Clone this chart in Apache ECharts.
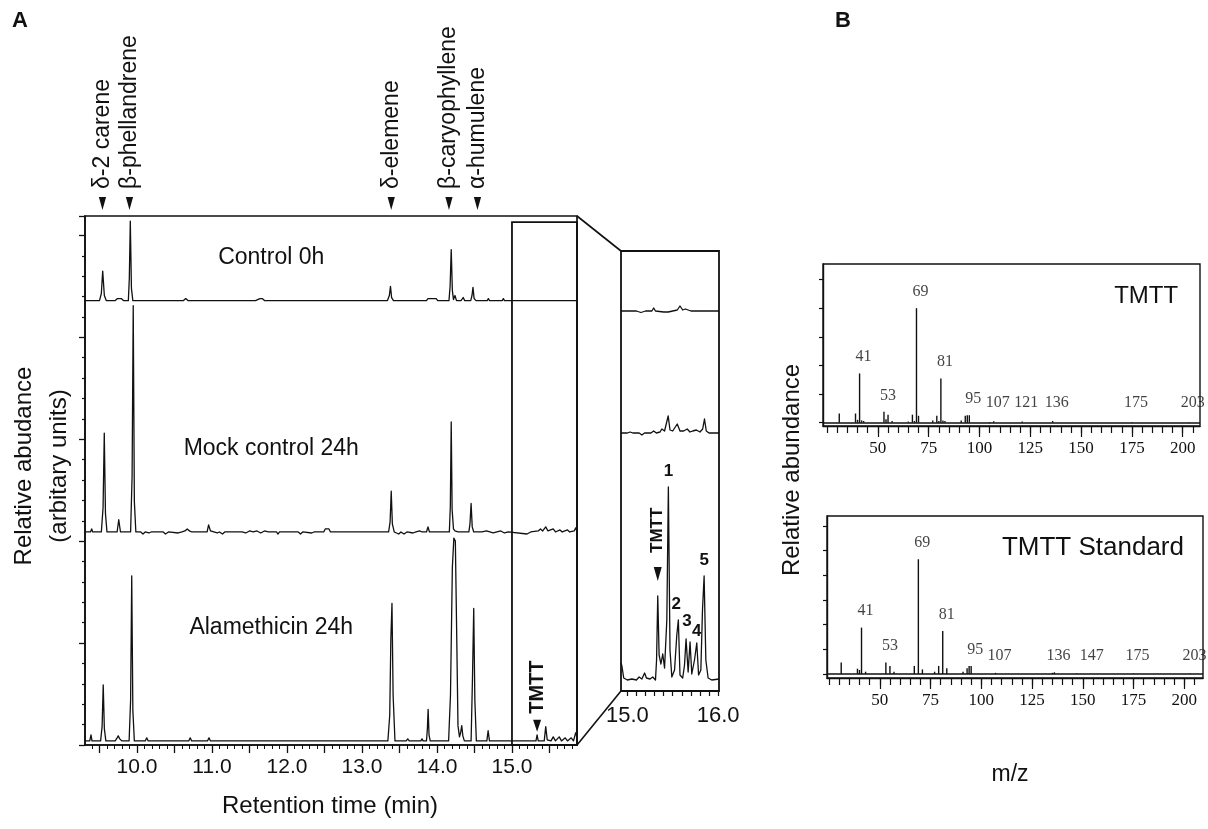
<!DOCTYPE html>
<html>
<head>
<meta charset="utf-8">
<script src="https://cdn.jsdelivr.net/npm/echarts@6/dist/echarts.min.js"></script>
<style>
html, body { margin: 0; padding: 0; background: #fff; }
#chart { width: 1208px; height: 829px; }
</style>
</head>
<body>
<div id="chart"></div>
<script>
// ---- A: chromatograms, [retention time (min), height above baseline] ----
const control0h = [
  [9.31,0],[9.50,0],[9.525,7],[9.543,29],[9.565,5],[9.59,0],[9.71,0],[9.74,2],[9.76,1],[9.79,2],[9.82,0],
  [9.885,0],[9.898,22],[9.911,78],[9.926,12],[9.945,0],[10.62,0],[10.65,2],[10.68,0],[11.58,0],[11.61,1],
  [11.63,0],[11.64,2],[11.67,2],[11.70,0],[13.34,0],[13.365,5],[13.38,14],[13.395,3],[13.42,0],[13.86,0],
  [13.88,2],[13.99,2],[14.01,0],[14.16,0],[14.175,14],[14.19,50],[14.205,10],[14.22,1],[14.24,5],[14.26,0],
  [14.32,0],[14.35,3],[14.37,0],[14.45,0],[14.467,5],[14.48,13],[14.495,2],[14.52,0],[14.67,0],[14.685,2],
  [14.70,0],[14.87,0],[14.885,2],[14.90,0],[15.867,0]
];
const mock24h = [
  [9.31,0],[9.38,0],[9.396,3],[9.41,0],[9.525,0],[9.548,24],[9.564,97],[9.58,18],[9.60,0],[9.735,0],
  [9.757,12],[9.78,0],[9.915,0],[9.935,55],[9.95,222],[9.965,30],[9.985,0],[10.05,0],[10.08,-2],[10.11,0],
  [10.16,-1],[10.19,0],[10.35,0],[10.38,-2],[10.42,0],[10.55,-1],[10.6,0],[10.64,1],[10.67,3],[10.70,1],
  [10.73,0],[10.935,0],[10.955,7],[10.98,1],[11.0,0],[11.07,-1],[11.1,0],[11.14,-2],[11.17,0],[11.4,0],
  [11.45,-1],[11.5,1],[11.55,0],[11.6,1],[11.65,-1],[11.7,1],[11.75,0],[11.86,0],[11.88,-2],[11.9,0],
  [12.15,0],[12.18,-2],[12.21,0],[12.33,-1],[12.36,0],[12.49,0],[12.51,3],[12.56,3],[12.58,0],[12.8,0],
  [13.355,0],[13.375,10],[13.39,40],[13.405,8],[13.43,0],[13.49,-2],[13.52,0],[13.56,-2],[13.6,0],
  [13.68,-1],[13.72,0],[13.77,1],[13.80,0],[13.86,0],[13.88,5],[13.9,0],[14.165,0],[14.178,25],[14.19,108],
  [14.202,22],[14.22,3],[14.24,1],[14.26,2],[14.28,0],[14.425,0],[14.44,8],[14.455,28],[14.47,5],[14.49,0],
  [14.6,0],[14.62,1],[14.66,1],[14.68,0],[14.75,-1],[14.8,0],[14.85,1],[14.9,-1],[14.95,0],[15.2,-2],
  [15.25,0],[15.35,1],[15.38,3],[15.41,1],[15.45,5],[15.48,1],[15.55,3],[15.58,0],[15.64,2],[15.67,0],
  [15.74,2],[15.77,0],[15.83,1],[15.85,4],[15.867,1]
];
const alam24h = [
  [9.31,0],[9.37,0],[9.387,6],[9.40,0],[9.515,0],[9.535,14],[9.55,55],[9.565,12],[9.585,0],[9.71,0],
  [9.735,3],[9.75,5],[9.77,2],[9.80,0],[9.895,0],[9.915,40],[9.93,162],[9.945,30],[9.965,0],[10.11,0],
  [10.13,3],[10.15,0],[10.69,0],[10.71,3],[10.73,0],[10.94,0],[10.96,3],[10.98,0],[13.345,0],[13.37,25],
  [13.385,100],[13.40,135],[13.415,45],[13.44,0],[13.59,0],[13.61,2],[13.63,0],[13.785,0],[13.80,2],
  [13.815,0],[13.86,0],[13.872,12],[13.882,31],[13.894,6],[13.91,0],[14.155,0],[14.18,45],[14.205,170],
  [14.225,199],[14.245,196],[14.262,110],[14.28,15],[14.30,4],[14.315,8],[14.33,15],[14.345,5],[14.365,0],
  [14.455,0],[14.473,60],[14.49,130],[14.505,40],[14.525,0],[14.665,0],[14.682,10],[14.70,0],[15.32,0],
  [15.335,6],[15.35,0],[15.43,0],[15.45,14],[15.47,1],[15.52,0],[15.55,4],[15.58,0],[15.63,4],[15.66,0],
  [15.71,3],[15.74,0],[15.79,3],[15.82,0],[15.85,8],[15.867,4]
];
const traceOffsets = [436, 209, 4];
const sampleNames = ['Control 0h', 'Mock control 24h', 'Alamethicin 24h'];

const compoundNames = ['δ-2 carene', 'β-phellandrene', 'δ-elemene', 'β-caryophyllene', 'α-humulene'];
const compoundTimes = [9.54, 9.90, 13.39, 14.16, 14.54];

const rtMajorTicks = [9.5, 10, 10.5, 11, 11.5, 12, 12.5, 13, 13.5, 14, 14.5, 15, 15.5];
const rtLabels = [10, 11, 12, 13, 14, 15];

// zoomed window 15-16 min
const insetControl = [
  [14.93,0],[15.1,0],[15.15,-1.5],[15.2,0],[15.27,0],[15.29,3],[15.31,0],[15.4,-1],[15.45,-1],[15.5,0],
  [15.55,1],[15.58,5],[15.61,1],[15.64,2],[15.67,1],[15.7,0],[15.86,0],[15.875,1],[15.89,0],[16.01,0]
];
const insetMock = [
  [14.93,0],[15.0,0],[15.03,1],[15.06,0],[15.13,0],[15.16,-2],[15.19,0],[15.26,0],[15.29,2],[15.32,0],
  [15.36,1],[15.38,4],[15.41,2],[15.43,4],[15.45,17],[15.47,3],[15.5,2],[15.52,3],[15.55,9],[15.58,2],
  [15.62,2],[15.66,4],[15.69,1],[15.72,2],[15.76,3],[15.8,1],[15.83,4],[15.85,14],[15.87,2],[15.9,0],[16.01,0]
];
const insetAlam = [
  [14.93,17],[14.94,14],[14.96,2],[15.0,0],[15.05,1],[15.1,0],[15.13,3],[15.16,1],[15.19,7],[15.21,2],
  [15.25,1],[15.28,3],[15.31,0],[15.322,20],[15.335,84],[15.35,25],[15.37,16],[15.39,26],[15.41,12],
  [15.435,60],[15.452,193],[15.47,30],[15.49,3],[15.52,10],[15.545,45],[15.562,60],[15.58,5],[15.61,2],
  [15.63,15],[15.647,41],[15.67,8],[15.691,38],[15.71,6],[15.74,20],[15.765,37],[15.785,5],[15.81,10],
  [15.828,70],[15.846,104],[15.865,20],[15.89,2],[15.93,0],[16.01,1]
];
const insetOffsets = [380, 258, 11];
const insetTags = ['TMTT', '1', '2', '3', '4', '5'];
const insetTagTimes = [15.335, 15.452, 15.562, 15.647, 15.765, 15.846];
const insetTicks = [15.0, 15.1, 15.2, 15.3, 15.4, 15.5, 15.6, 15.7, 15.8, 15.9, 16.0];
const insetLabels = [15, 16];

// ---- B: mass spectra, [m/z, relative abundance %] ----
const tmttIons = [
  [31,8],[39,8],[40,2.5],[41,43],[42,2],[43,1.5],[53,9.5],[54,3],[55,7],[57,1.5],[65,1],[67,7],[68,1.5],
  [69,100],[70,6],[77,2],[79,6],[80,1.5],[81,38.6],[82,2],[83,1.5],[91,2],[93,6],[94,6.5],[95,6.5],
  [105,0.6],[107,1.2],[121,1],[136,1.5],[175,0.4],[203,0.4]
];
const tmttTags = [41, 53, 69, 81, 95, 107, 121, 136, 175, 203];
const stdIons = [
  [31,10],[39,4.6],[40,3.5],[41,40.4],[43,2],[53,10],[55,7],[57,2],[67,7],[69,100],[71,4],[77,2],[79,7],
  [81,37.5],[83,5],[91,2],[93,5],[94,7],[95,7],[107,1],[135,1],[136,1.5],[147,0.4],[175,0.4],[203,0.4]
];
const stdTags = [41, 53, 69, 81, 95, 107, 136, 147, 175, 203];
const mzLabels = [50, 75, 100, 125, 150, 175, 200];

// minor ticks
const rtMinorTicks = [];
for (let i = 94; i <= 158; i++) rtMinorTicks.push(i / 10);
const mzTicks = [];
for (let m = 25; m <= 205; m += 5) mzTicks.push(m);

const sans = '"Liberation Sans", Arial, Helvetica, sans-serif';
const serif = '"Liberation Serif", "Times New Roman", serif';
const ink = '#111';

const shift = (d, off) => d.map(p => [p[0], p[1] + off]);

function traceSeries(data, xi, yi) {
  return {
    type: 'line', xAxisIndex: xi, yAxisIndex: yi, data: data,
    symbol: 'none', silent: true, animation: false,
    lineStyle: { color: ink, width: 1.3, join: 'round' }
  };
}

// label anchors: at the peak top, or at a small floor for tiny peaks
function tagPoints(ions, tags, floor) {
  return tags.map(mz => {
    const ion = ions.find(p => p[0] === mz);
    const item = { value: [mz, Math.max(ion ? ion[1] : 0, floor)] };
    if (mz === 147) item.label = { offset: [15, 0] };  // pushed clear of "136"
    return item;
  });
}

function specSeries(ions, tags, floor, xi, yi) {
  return [{
    type: 'bar', xAxisIndex: xi, yAxisIndex: yi, data: ions, barWidth: 1.4,
    itemStyle: { color: ink }, silent: true, animation: false,
    markLine: {
      silent: true, symbol: 'none', label: { show: false },
      lineStyle: { color: ink, width: 1.5, type: 'solid' },
      data: [{ yAxis: 0 }]
    }
  }, {
    type: 'scatter', xAxisIndex: xi, yAxisIndex: yi, symbolSize: 1,
    itemStyle: { color: 'rgba(0,0,0,0)' }, silent: true, animation: false,
    data: tagPoints(ions, tags, floor),
    label: {
      show: true, position: 'top', distance: 8,
      formatter: p => String(p.value[0]),
      fontFamily: serif, fontSize: 16, color: ink, offset: [4, 0]
    }
  }];
}

const hidden = { show: false };

const option = {
  animation: false,
  grid: [
    { left: 85, top: 216, width: 492, height: 529, show: true, borderColor: ink, borderWidth: 1.7, outerBoundsMode: 'none' },
    { left: 621, top: 251, width: 98, height: 440, show: true, borderColor: ink, borderWidth: 1.8, outerBoundsMode: 'none' },
    { left: 823, top: 264, width: 377, height: 162, show: true, borderColor: ink, borderWidth: 1.4, outerBoundsMode: 'none' },
    { left: 827, top: 516, width: 376, height: 162, show: true, borderColor: ink, borderWidth: 1.4, outerBoundsMode: 'none' }
  ],
  xAxis: [
    { gridIndex: 0, type: 'value', min: 9.307, max: 15.867,
      axisLine: { onZero: false, lineStyle: { color: ink, width: 1.5 } },
      axisTick: { customValues: rtMajorTicks, length: 8, lineStyle: { color: ink, width: 1.3 } },
      axisLabel: { customValues: rtLabels, formatter: v => Number(v).toFixed(1), fontFamily: sans, fontSize: 21, color: ink, margin: 12 },
      splitLine: hidden },
    { gridIndex: 0, type: 'value', min: 9.307, max: 15.867, position: 'bottom',
      axisLine: { show: false, onZero: false },
      axisTick: { customValues: rtMinorTicks, length: 4, lineStyle: { color: ink, width: 1 } },
      axisLabel: hidden, splitLine: hidden },
    { gridIndex: 1, type: 'value', min: 14.93, max: 16.01,
      axisLine: { onZero: false, lineStyle: { color: ink, width: 1.5 } },
      axisTick: { customValues: insetTicks, length: 5, lineStyle: { color: ink, width: 1.2 } },
      axisLabel: { customValues: insetLabels, formatter: v => Number(v).toFixed(1), fontFamily: sans, fontSize: 22, color: ink, margin: 14 },
      splitLine: hidden },
    { gridIndex: 2, type: 'value', min: 23, max: 208.5,
      axisLine: { onZero: false, lineStyle: { color: ink, width: 1.4 } },
      axisTick: { customValues: mzTicks, length: 7, lineStyle: { color: ink, width: 1.2 } },
      axisLabel: { customValues: mzLabels, formatter: v => String(v), fontFamily: serif, fontSize: 17, color: ink, margin: 14 },
      splitLine: hidden },
    { gridIndex: 2, type: 'value', min: 23, max: 208.5, position: 'bottom',
      axisLine: { show: false, onZero: false },
      axisTick: { customValues: mzLabels, length: 11, lineStyle: { color: ink, width: 1.2 } },
      axisLabel: hidden, splitLine: hidden },
    { gridIndex: 3, type: 'value', min: 24, max: 209.2,
      axisLine: { onZero: false, lineStyle: { color: ink, width: 1.4 } },
      axisTick: { customValues: mzTicks, length: 7, lineStyle: { color: ink, width: 1.2 } },
      axisLabel: { customValues: mzLabels, formatter: v => String(v), fontFamily: serif, fontSize: 17, color: ink, margin: 14 },
      splitLine: hidden },
    { gridIndex: 3, type: 'value', min: 24, max: 209.2, position: 'bottom',
      axisLine: { show: false, onZero: false },
      axisTick: { customValues: mzLabels, length: 11, lineStyle: { color: ink, width: 1.2 } },
      axisLabel: hidden, splitLine: hidden }
  ],
  yAxis: [
    { gridIndex: 0, type: 'value', min: 0, max: 519, interval: 100,
      axisLine: { show: true, onZero: false, lineStyle: { color: ink, width: 1.5 } },
      axisTick: { show: true, length: 6, lineStyle: { color: ink, width: 1.3 } },
      minorTick: { show: true, splitNumber: 5, length: 3, lineStyle: { color: ink, width: 1.2 } },
      axisLabel: hidden, splitLine: hidden, minorSplitLine: hidden },
    { gridIndex: 1, type: 'value', min: 0, max: 440, show: false },
    { gridIndex: 2, type: 'value', min: -2.9, max: 138.6,
      axisLine: { show: true, onZero: false, lineStyle: { color: ink, width: 1.4 } },
      axisTick: { show: true, customValues: [0, 25, 50, 75, 100, 125], length: 4, lineStyle: { color: ink, width: 1.2 } },
      axisLabel: { show: false, customValues: [0, 25, 50, 75, 100, 125] }, splitLine: hidden },
    { gridIndex: 3, type: 'value', min: -3.5, max: 137.7,
      axisLine: { show: true, onZero: false, lineStyle: { color: ink, width: 1.4 } },
      axisTick: { show: true, customValues: [0, 21.5, 43, 64.5, 86, 107.5, 129], length: 4, lineStyle: { color: ink, width: 1.2 } },
      axisLabel: { show: false, customValues: [0, 21.5, 43, 64.5, 86, 107.5, 129] }, splitLine: hidden }
  ],
  series: [
    traceSeries(shift(control0h, traceOffsets[0]), 0, 0),
    traceSeries(shift(mock24h, traceOffsets[1]), 0, 0),
    Object.assign(traceSeries(shift(alam24h, traceOffsets[2]), 0, 0), {
      markArea: {
        silent: true,
        itemStyle: { color: 'rgba(0,0,0,0)', borderColor: ink, borderWidth: 1.8 },
        data: [[{ coord: [15.0, 0] }, { coord: [15.867, 513] }]]
      }
    }),
    traceSeries(shift(insetControl, insetOffsets[0]), 2, 1),
    traceSeries(shift(insetMock, insetOffsets[1]), 2, 1),
    traceSeries(shift(insetAlam, insetOffsets[2]), 2, 1)
  ].concat(specSeries(tmttIons, tmttTags, 2.6, 3, 2))
   .concat(specSeries(stdIons, stdTags, 1.5, 5, 3))
};

const chart = echarts.init(document.getElementById('chart'));
chart.setOption(option);

// ---- annotations placed through the axes ----
const toPx = (xi, yi, p) => chart.convertToPixel({ xAxisIndex: xi, yAxisIndex: yi }, p);
const g = [];
function text(x, y, str, font, align, rot) {
  g.push({
    type: 'text', x: x, y: y, rotation: rot || 0, silent: true,
    style: { text: str, font: font, fill: ink, align: align || 'center', verticalAlign: 'middle',
             textAlign: align || 'center', textVerticalAlign: 'middle' }
  });
}
function arrow(x, yTop, yTip, half) {
  g.push({ type: 'polygon', silent: true,
    shape: { points: [[x - half, yTop], [x + half, yTop], [x, yTip]] }, style: { fill: ink } });
}
function line(a, b) {
  g.push({ type: 'line', silent: true, shape: { x1: a[0], y1: a[1], x2: b[0], y2: b[1] },
    style: { stroke: ink, lineWidth: 1.6 } });
}

// compound names above panel A
const top0 = toPx(0, 0, [9.307, 519])[1];
compoundTimes.forEach((t, i) => {
  const x = toPx(0, 0, [t, 0])[0];
  arrow(x, top0 - 19, top0 - 6, 3.6);
  text(x, top0 - 27, compoundNames[i], '23px ' + sans, 'left', Math.PI / 2);
});

// sample names
const sampleLabelY = [42, 82, 111];
sampleNames.forEach((s, i) => {
  const p = toPx(0, 0, [11.79, traceOffsets[i] + sampleLabelY[i]]);
  text(p[0], p[1], s, '23px ' + sans, 'center');
});

// TMTT in the main chromatogram
const tm = alam24h.find(p => p[0] === 15.335);
const tmPx = toPx(0, 0, [tm[0], tm[1] + traceOffsets[2]]);
arrow(tmPx[0], tmPx[1] - 15, tmPx[1] - 3, 4);
text(tmPx[0], tmPx[1] - 21, 'TMTT', 'bold 20px ' + sans, 'left', Math.PI / 2);

// peak tags in the zoomed window
const tagShift = { '2': [-2, 0], '3': [1, -2], '4': [0, 4] };
insetTags.forEach((s, i) => {
  const pt = insetAlam.find(p => p[0] === insetTagTimes[i]);
  const p = toPx(2, 1, [pt[0], pt[1] + insetOffsets[2]]);
  if (s === 'TMTT') {
    arrow(p[0], p[1] - 29, p[1] - 15, 4);
    text(p[0], p[1] - 43, s, 'bold 17px ' + sans, 'left', Math.PI / 2);
  } else {
    const d = tagShift[s] || [0, 0];
    text(p[0] + d[0], p[1] - 16 + d[1], s, 'bold 17px ' + sans, 'center');
  }
});

// connectors from the boxed window to the zoom
line(toPx(0, 0, [15.867, 519]), toPx(2, 1, [14.93, 440]));
line(toPx(0, 0, [15.867, 0]), toPx(2, 1, [14.93, 0]));

// spectrum titles
const t1 = toPx(3, 2, [182, 110]);
text(t1[0], t1[1], 'TMTT', '24px ' + sans, 'center');
const t2 = toPx(5, 3, [155, 110]);
text(t2[0], t2[1], 'TMTT Standard', '26px ' + sans, 'center');

// panel letters and axis titles
text(20, 21, 'A', 'bold 22px ' + sans, 'center');
text(843, 21, 'B', 'bold 22px ' + sans, 'center');
text(24, 466, 'Relative abudance', '24px ' + sans, 'center', Math.PI / 2);
text(59, 466, '(arbitary units)', '24px ' + sans, 'center', Math.PI / 2);
text(330, 806, 'Retention time (min)', '24px ' + sans, 'center');
text(792, 470, 'Relative abundance', '24px ' + sans, 'center', Math.PI / 2);
text(1010, 775, 'm/z', '23px ' + sans, 'center');

chart.setOption({ graphic: g });
</script>
</body>
</html>
